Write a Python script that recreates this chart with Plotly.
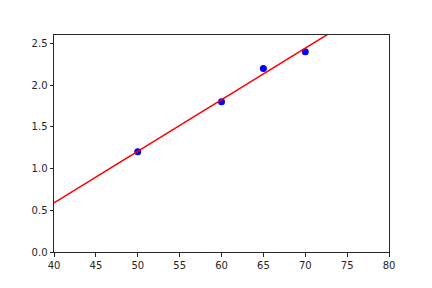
import plotly.graph_objects as go

x_pts = [50, 60, 65, 70]
y_pts = [1.2, 1.8, 2.2, 2.4]
fit_x = [40, 80]
fit_y = [0.59, 3.06]
x_ticks = [40, 45, 50, 55, 60, 65, 70, 75, 80]
y_ticks = [0.0, 0.5, 1.0, 1.5, 2.0, 2.5]

fig = go.Figure()
fig.add_trace(go.Scatter(x=x_pts, y=y_pts, mode="markers",
                         marker=dict(color="#0000ff", size=7, line=dict(width=0))))
fig.add_trace(go.Scatter(x=fit_x, y=fit_y, mode="lines",
                         line=dict(color="#ff0000", width=1.5)))

axis_common = dict(showgrid=False, zeroline=False, showline=True, mirror=True,
                   linecolor="#262626", linewidth=1, ticks="outside", ticklen=3.5,
                   tickwidth=1, tickcolor="#262626",
                   tickfont=dict(family="DejaVu Sans", size=10, color="#262626"))
fig.update_xaxes(range=[40, 80], tickvals=x_ticks, ticktext=[str(v) for v in x_ticks], **axis_common)
fig.update_yaxes(range=[0, 2.6], tickvals=y_ticks, ticktext=[f"{v:.1f}" for v in y_ticks], **axis_common)
fig.update_layout(width=432, height=288, showlegend=False,
                  margin=dict(l=54, r=43, t=35, b=36),
                  plot_bgcolor="white", paper_bgcolor="white")
fig.write_html("out.html")
